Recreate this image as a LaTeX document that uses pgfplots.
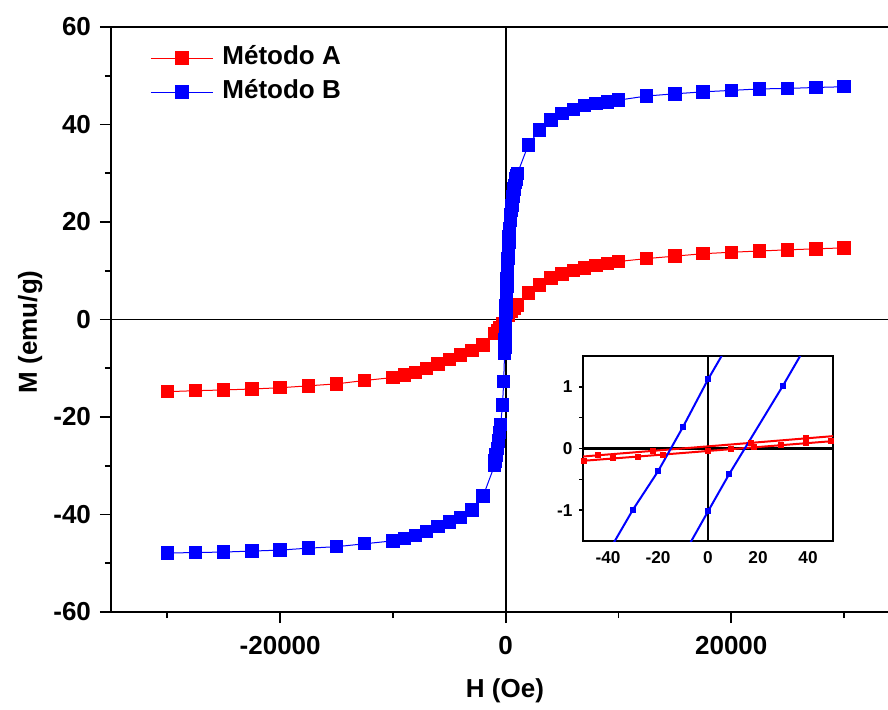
\documentclass[border=0pt]{standalone}
\usepackage{pgfplots}
\pgfplotsset{compat=1.18}
\usepackage{fontspec}
\setmainfont{Liberation Sans}
\definecolor{pred}{RGB}{255,0,0}
\definecolor{pblue}{RGB}{0,0,255}

\pgfplotstableread{
H M
-30000 -14.8
-27500 -14.6
-25000 -14.45
-22500 -14.25
-20000 -14.0
-17500 -13.6
-15000 -13.2
-12500 -12.5
-10000 -11.9
-9000 -11.4
-8000 -10.9
-7000 -10.0
-6000 -9.1
-5000 -8.2
-4000 -7.3
-3000 -6.4
-2000 -5.2
-1000 -2.9
-750 -2.3
-500 -1.6
-250 -0.8
0 0.0
250 0.8
500 1.6
750 2.4
1000 3.0
2000 5.4
3000 7.1
4000 8.5
5000 9.3
6000 10.1
7000 10.6
8000 11.1
9000 11.5
10000 11.9
12500 12.5
15000 13.0
17500 13.5
20000 13.8
22500 14.05
25000 14.3
27500 14.5
30000 14.7
}\dataA

\pgfplotstableread{
H M
-30000 -47.9
-27500 -47.8
-25000 -47.7
-22500 -47.5
-20000 -47.3
-17500 -46.9
-15000 -46.6
-12500 -46.0
-10000 -45.4
-9000 -44.9
-8000 -44.3
-7000 -43.5
-6000 -42.5
-5000 -41.5
-4000 -40.6
-3000 -39.1
-2000 -36.2
-1000 -30.0
-950 -29.0
-850 -27.8
-750 -26.4
-650 -24.9
-550 -23.2
-450 -21.5
-280 -17.5
-180 -12.7
-100 -6.9
-80 -5.6
-60 -4.2
-40 -2.9
-20 -1.4
0 0.0
20 1.5
40 2.9
60 4.2
80 5.6
100 6.9
125 8.4
150 9.8
175 11.2
200 12.5
225 13.7
250 14.8
275 15.9
300 17.0
350 18.7
400 20.3
450 21.4
500 22.5
550 23.4
600 24.3
650 25.2
700 26.0
750 26.8
800 27.5
850 28.2
900 28.8
950 29.4
1050 30.0
2000 35.8
3000 38.9
4000 40.9
5000 42.2
6000 43.1
7000 43.9
8000 44.3
9000 44.6
10000 45.0
12500 45.85
15000 46.3
17500 46.7
20000 47.0
22500 47.3
25000 47.4
27500 47.6
30000 47.75
}\dataB

\begin{document}
\begin{tikzpicture}
\begin{axis}[
  scale only axis, width=388.5pt, height=292.5pt,
  at={(0pt,0pt)}, anchor=south west,
  xmin=-35000, xmax=33900, ymin=-60, ymax=60,
  clip=false,
  axis line style={draw=none},
  xtick={-20000,0,20000}, minor xtick={-30000,-10000,10000,30000},
  ytick={-60,-40,-20,0,20,40,60}, minor ytick={-50,-30,-10,10,30,50},
  tick align=outside,
  tick style={black, line width=0.9pt},
  major tick length=5.5pt, minor tick length=3pt,
  xtick pos=bottom, ytick pos=left,
  scaled x ticks=false, scaled y ticks=false,
  /pgf/number format/1000 sep={},
  /pgf/number format/assume math mode=true,
  ticklabel style={font=\fontsize{13}{15}\selectfont\bfseries},
  xticklabel style={yshift=-3pt},
  yticklabel style={xshift=-1pt},
  xlabel={H (Oe)}, ylabel={M (emu/g)},
  label style={font=\fontsize{13}{15}\selectfont\bfseries},
  x label style={at={(axis description cs:0.507,-0.135)}, anchor=center},
  y label style={at={(axis description cs:-0.104,0.479)}, anchor=center},
  legend style={at={(0.0502,0.975)}, anchor=north west, draw=none, fill=none,
    inner sep=0pt, row sep=1pt,
    font=\fontsize{13}{15}\selectfont\bfseries,
    nodes={inner sep=2pt, text height=9pt, text depth=3pt},
    /tikz/every odd column/.append style={column sep=2.5pt}},
  legend cell align=left,
  legend image code/.code={
    \draw[mark repeat=2,mark phase=2,#1] plot coordinates {(0pt,0pt) (15.5pt,0pt) (31pt,0pt)};
  },
]
\draw[black, line width=0.9pt] (axis cs:0,-60) -- (axis cs:0,60);
\draw[black, line width=0.9pt] (axis cs:-35000,0) -- (axis cs:33900,0);
\draw[black, line width=1pt] (rel axis cs:0,0) -- (rel axis cs:0,1) -- (rel axis cs:1,1);
\draw[black, line width=1pt] (rel axis cs:0,0) -- (rel axis cs:1,0);
\addplot[pred, line width=0.5pt, mark=square*, mark size=3.1pt, mark options={solid, fill=pred, draw=pred, line width=0pt}] table[x=H,y=M] {\dataA};
\addlegendentry{Método A}
\addplot[pblue, line width=0.5pt, mark=square*, mark size=3.1pt, mark options={solid, fill=pblue, draw=pblue, line width=0pt}] table[x=H,y=M] {\dataB};
\addlegendentry{Método B}
\end{axis}

\begin{axis}[
  scale only axis, width=125pt, height=92.5pt,
  at={(236pt,35.5pt)}, anchor=south west,
  xmin=-50, xmax=50, ymin=-1.5, ymax=1.5,
  axis background/.style={fill=white},
  axis line style={line width=1.3pt},
  xtick={-40,-20,0,20,40}, ytick={-1,0,1}, minor ytick={-0.5,0.5},
  xtick pos=bottom, ytick pos=left,
  tick align=outside,
  xtick style={draw=none},
  ytick style={black, line width=0.8pt},
  major tick length=1.8pt, minor tick length=1.8pt,
  /pgf/number format/assume math mode=true,
  ticklabel style={font=\fontsize{8.6}{10}\selectfont\bfseries},
]
\draw[black, line width=1.2pt] (axis cs:0,-1.5) -- (axis cs:0,1.5);
\draw[black, line width=1.2pt] (axis cs:-50,0) -- (axis cs:50,0);
\addplot[pred, line width=1pt, mark=square*, mark size=1pt, mark options={solid}] coordinates {
(-55,-0.147) (-44,-0.110) (-22,-0.038) (17,0.091) (39,0.164) (55,0.217)};
\addplot[pred, line width=1pt, mark=square*, mark size=1pt, mark options={solid}] coordinates {
(-55,-0.216) (-49.5,-0.198) (-38,-0.162) (-28,-0.130) (-18,-0.098) (0,-0.04) (9,-0.011) (18.5,0.019) (29,0.053) (39,0.085) (49,0.117) (55,0.136)};
\addplot[pblue, line width=1pt, mark=square*, mark size=1pt, mark options={solid}] coordinates {
(-40,-1.69) (-30,-0.99) (-20,-0.37) (-10,0.35) (0,1.12) (10,1.82)};
\addplot[pblue, line width=1pt, mark=square*, mark size=1pt, mark options={solid}] coordinates {
(-10,-1.74) (0,-1.02) (8.4,-0.42) (30,1.02) (40,1.72)};
\end{axis}
\pgfresetboundingbox
\path[use as bounding box] (-55.5pt,-48.5pt) rectangle (388.5pt,306pt);
\end{tikzpicture}
\end{document}
